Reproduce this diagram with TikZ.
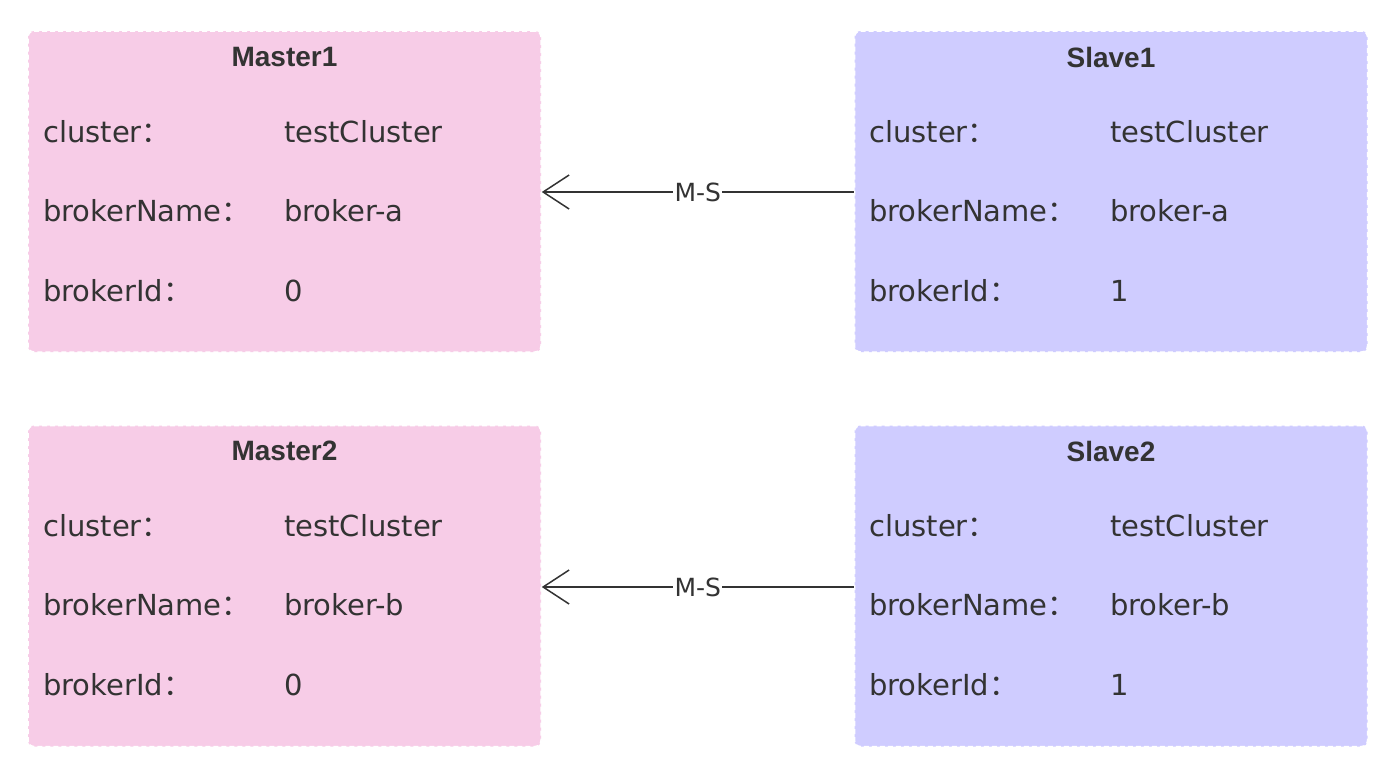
\documentclass[tikz,border=0pt]{standalone}
\usepackage{fontspec}
\setmainfont{DejaVu Sans}
\newfontfamily\ttlfont{Liberation Sans}
\newfontfamily\cjk{Noto Sans CJK SC}
\usetikzlibrary{arrows.meta}
\definecolor{pinkfill}{HTML}{F7CCE7}
\definecolor{lavfill}{HTML}{CFCCFF}
\definecolor{txt}{HTML}{333333}
\newcommand{\cc}{{\cjk ：}}
\tikzset{
  box/.style={draw=white, dashed, dash pattern=on 5pt off 3pt, line width=1.5pt, rounded corners=6pt, minimum width=513pt, minimum height=321pt, inner sep=0pt},
  mbox/.style={box, fill=pinkfill},
  sbox/.style={box, fill=lavfill},
  ttl/.style={font=\ttlfont\bfseries\fontsize{28}{30}\selectfont, text=txt, anchor=center},
  lbl/.style={font=\fontsize{29}{32}\selectfont, text=txt, anchor=west, inner sep=0pt},
  link/.style={draw=txt, line width=1.5pt, -{Straight Barb[length=26pt,width=34pt,line width=1.5pt]}},
  linklbl/.style={font=\fontsize{25}{28}\selectfont, text=txt, fill=white, inner sep=1.5pt}
}
\begin{document}
\begin{tikzpicture}[x=1pt,y=-1pt]
\useasboundingbox[fill=white] (0,0) rectangle (1400,780);
% boxes
\node[mbox] (m1) at (284.5,191.5) {};
\node[sbox] (s1) at (1111,191.5) {};
\node[mbox] (m2) at (284.5,586) {};
\node[sbox] (s2) at (1111,586) {};
% Master1
\node[ttl] (m1t) at (284.5,57) {Master1};
\node[lbl] (m1a) at (43,132) {cluster\cc};
\node[lbl] (m1av) at (284,132) {testCluster};
\node[lbl] (m1b) at (43,211) {brokerName\cc};
\node[lbl] (m1bv) at (284,211) {broker-a};
\node[lbl] (m1c) at (43,291) {brokerId\cc};
\node[lbl] (m1cv) at (284,291) {0};
% Slave1
\node[ttl] (s1t) at (1111,57) {Slave1};
\node[lbl] (s1a) at (869,132) {cluster\cc};
\node[lbl] (s1av) at (1110,132) {testCluster};
\node[lbl] (s1b) at (869,211) {brokerName\cc};
\node[lbl] (s1bv) at (1110,211) {broker-a};
\node[lbl] (s1c) at (869,291) {brokerId\cc};
\node[lbl] (s1cv) at (1110,291) {1};
% Master2
\node[ttl] (m2t) at (284.5,451) {Master2};
\node[lbl] (m2a) at (43,526) {cluster\cc};
\node[lbl] (m2av) at (284,526) {testCluster};
\node[lbl] (m2b) at (43,605) {brokerName\cc};
\node[lbl] (m2bv) at (284,605) {broker-b};
\node[lbl] (m2c) at (43,685) {brokerId\cc};
\node[lbl] (m2cv) at (284,685) {0};
% Slave2
\node[ttl] (s2t) at (1111,451) {Slave2};
\node[lbl] (s2a) at (869,526) {cluster\cc};
\node[lbl] (s2av) at (1110,526) {testCluster};
\node[lbl] (s2b) at (869,605) {brokerName\cc};
\node[lbl] (s2bv) at (1110,605) {broker-b};
\node[lbl] (s2c) at (869,685) {brokerId\cc};
\node[lbl] (s2cv) at (1110,685) {1};
% links
\draw[link] (s1.west |- 0,192) -- node[linklbl, pos=0.5] {M-S} (m1.east |- 0,192);
\draw[link] (s2.west |- 0,587) -- node[linklbl, pos=0.5] {M-S} (m2.east |- 0,587);
\end{tikzpicture}
\end{document}
